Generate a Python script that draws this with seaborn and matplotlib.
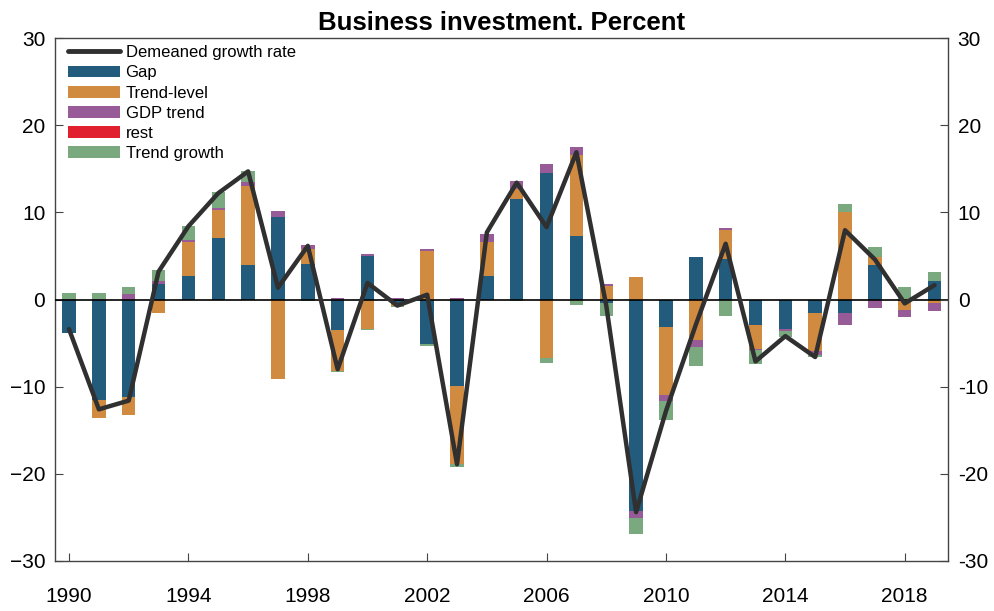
import numpy as np
import pandas as pd
import matplotlib
matplotlib.use("Agg")
import matplotlib.pyplot as plt
from matplotlib.lines import Line2D
from matplotlib.patches import Patch
import seaborn as sns

years = list(range(1990, 2020))

gap = [-3.9, -11.5, -11.2, 1.8, 2.7, 7.1, 4.0, 9.5, 4.05, -3.5,
       5.0, -0.5, -5.05, -9.9, 2.65, 11.5, 14.5, 7.3, -0.4, -24.3,
       -3.1, 4.9, 4.6, -2.9, -3.4, -1.6, -1.5, 4.0, -0.2, 2.1]
trend_level = [0.0, -2.1, -2.1, -1.6, 3.9, 3.2, 9.0, -9.1, 1.7, -4.7,
               -3.4, -0.2, 5.6, -9.0, 3.9, 1.15, -6.7, 9.25, 1.6, 2.55,
               -7.8, -4.7, 3.4, -2.8, 0.0, -4.3, 10.0, 0.9, -0.95, -0.45]
gdp_trend = [0.05, 0.1, 0.6, 0.3, 0.2, 0.2, 0.45, 0.65, 0.55, 0.2,
             0.2, 0.15, 0.25, 0.2, 0.95, 0.95, 1.07, 0.95, 0.2, -0.75,
             -0.7, -0.7, 0.15, -0.1, -0.2, -0.45, -1.4, -1.0, -0.85, -0.85]
rest = [0.0] * 30
trend_growth = [0.65, 0.7, 0.85, 1.25, 1.6, 1.8, 1.25, 0.0, -0.2, -0.15,
                -0.1, -0.15, -0.3, -0.3, -0.1, -0.2, -0.55, -0.6, -1.5, -1.9,
                -2.2, -2.2, -1.9, -1.65, -0.75, -0.3, 0.9, 1.1, 1.45, 1.0]
demeaned = [-3.4, -12.6, -11.6, 3.2, 8.4, 12.2, 14.7, 1.35, 6.15, -8.0,
            1.9, -0.7, 0.55, -18.9, 7.7, 13.4, 8.3, 16.9, -0.7, -24.4,
            -12.8, -2.9, 6.4, -7.1, -4.2, -6.6, 7.95, 4.6, -0.45, 1.65]

components = [
    ("Gap", gap, "#225b7c"),
    ("Trend-level", trend_level, "#d08b41"),
    ("GDP trend", gdp_trend, "#975b98"),
    ("rest", rest, "#e0202f"),
    ("Trend growth", trend_growth, "#7aa97f"),
]
line_color = "#303030"

sns.set_theme(style="ticks")
plt.rcParams["font.family"] = ["Liberation Sans", "DejaVu Sans"]
plt.rcParams["axes.unicode_minus"] = True
plt.rcParams["text.color"] = "black"
plt.rcParams["xtick.labelcolor"] = "black"
plt.rcParams["ytick.labelcolor"] = "black"

fig = plt.figure(figsize=(9.95, 6.11), dpi=100)
ax = fig.add_axes([55 / 995, 1 - 561 / 611, 893 / 995, 523 / 611])

# stacked contributions: positives build upward, negatives downward
pos_base = np.zeros(len(years))
neg_base = np.zeros(len(years))
for name, vals, color in components:
    v = np.asarray(vals, dtype=float)
    bottom = np.where(v >= 0, pos_base, neg_base)
    ax.bar(years, v, bottom=bottom, width=0.45, color=color,
           edgecolor="none", zorder=2)
    pos_base += np.where(v >= 0, v, 0)
    neg_base += np.where(v < 0, v, 0)

ax.axhline(0, color="black", lw=1.2, zorder=3)

df = pd.DataFrame({"year": years, "value": demeaned})
sns.lineplot(data=df, x="year", y="value", ax=ax, color=line_color,
             lw=3.2, zorder=4, legend=False)

ax.set_xlim(1989.53, 2019.45)
ax.set_ylim(-30, 30)
ax.set_xlabel("")
ax.set_ylabel("")
ax.set_xticks(range(1990, 2019, 4))
ax.set_yticks(range(-30, 31, 10))

for s in ax.spines.values():
    s.set_visible(True)
    s.set_color("#444444")
    s.set_linewidth(1.0)

ax.tick_params(axis="x", direction="in", length=6, width=0.8, color="#444444",
               labelsize=15, pad=19, labelcolor="black")
ax.tick_params(axis="y", direction="in", length=6, width=0.8, color="#444444",
               labelsize=15, pad=7, labelcolor="black")

ax2 = ax.twinx()
ax2.set_ylim(-30, 30)
ax2.set_yticks(range(-30, 31, 10))
ax2.set_yticklabels([str(t) for t in range(-30, 31, 10)])
ax2.tick_params(axis="y", direction="in", length=6, width=0.8, color="#444444",
                labelsize=15, pad=7, labelcolor="black")
for s in ax2.spines.values():
    s.set_visible(False)

ax.set_title("Business investment. Percent", fontsize=18.5, fontweight="bold",
             pad=6, color="black")

handles = [Line2D([0], [0], color=line_color, lw=3.5)]
labels = ["Demeaned growth rate"]
for name, vals, color in components:
    handles.append(Patch(facecolor=color, edgecolor="none"))
    labels.append(name)
ax.legend(handles, labels, loc="upper left", frameon=False, fontsize=12,
          bbox_to_anchor=(13 / 893, 0.986), borderaxespad=0, borderpad=0,
          handlelength=3.1, handleheight=0.7, handletextpad=0.35,
          labelspacing=0.31)

fig.savefig("out.png", dpi=100)
